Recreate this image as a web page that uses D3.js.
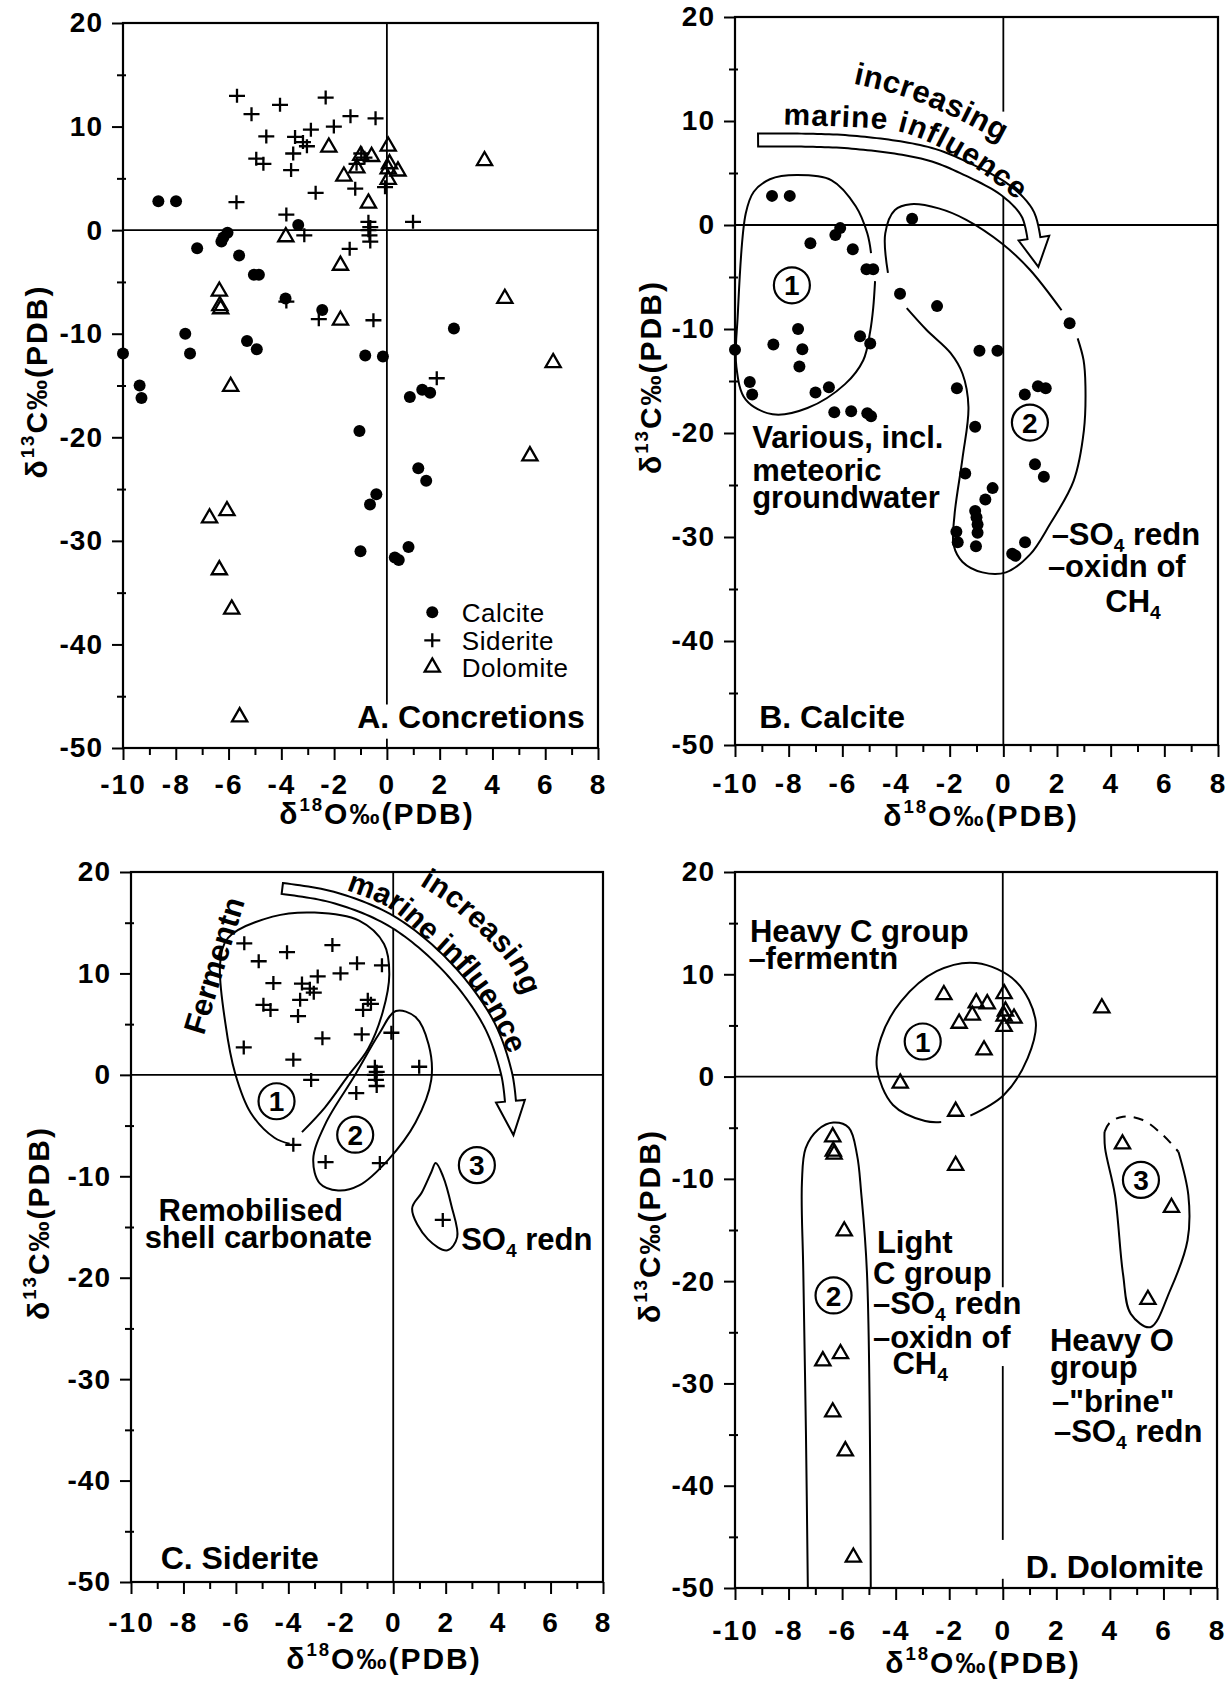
<!DOCTYPE html>
<html>
<head>
<meta charset="utf-8">
<script src="https://cdn.jsdelivr.net/npm/d3@7"></script>
<style>
  body { margin: 0; background: #fff; }
  svg text { font-family: "Liberation Sans", Arial, Helvetica, sans-serif; fill: #000; }
</style>
</head>
<body>
<svg id="fig" width="1228" height="1681"></svg>
<script>
// axis ranges shared by the four plots (d18O on x, d13C on y)
const xDomain = [-10, 8];
const yDomain = [-50, 20];

// ---- sample values [d18O, d13C] ----
// panel A, calcite concretions
const concCalcite = [
  [-8.66, 2.8], [-7.99, 2.8], [-6.04, -0.25], [-6.2, -0.7], [-6.27, -1.1], [-7.19, -1.75],
  [-5.6, -2.45], [-5.04, -4.3], [-4.85, -4.3], [-3.36, 0.5], [-3.84, -6.6], [-2.45, -7.7],
  [2.54, -9.5], [-10.0, -11.9], [-7.64, -10.0], [-7.46, -11.9], [-5.3, -10.7], [-4.93, -11.5],
  [-0.82, -12.1], [-0.15, -12.2], [-9.37, -15.0], [-9.3, -16.2], [0.87, -16.1], [1.34, -15.4],
  [1.64, -15.7], [-1.04, -19.4], [1.19, -23.0], [1.49, -24.2], [-0.4, -25.5], [-0.64, -26.5],
  [-1.0, -31.0], [0.82, -30.6], [0.3, -31.6], [0.45, -31.85]
];
// panel B, calcite
const calcite = [
  [-8.62, 2.8], [-7.96, 2.8], [-6.08, -0.3], [-6.26, -0.96], [-7.19, -1.76], [-5.61, -2.34],
  [-5.1, -4.26], [-4.85, -4.26], [-3.4, 0.6], [-3.85, -6.6], [-2.47, -7.8], [2.47, -9.45],
  [-10.0, -12.0], [-8.57, -11.5], [-7.65, -10.0], [-7.49, -11.95], [-7.6, -13.6], [-5.34, -10.7],
  [-4.96, -11.4], [-9.45, -15.1], [-9.36, -16.3], [-7.0, -16.1], [-6.5, -15.6], [-0.89, -12.1],
  [-0.22, -12.1], [-1.73, -15.7], [0.8, -16.3], [1.29, -15.5], [1.58, -15.7], [-6.3, -18.0],
  [-5.67, -17.9], [-5.07, -18.1], [-4.93, -18.4], [-1.05, -19.4], [-1.42, -23.9], [-0.4, -25.3],
  [-0.67, -26.4], [1.18, -23.0], [1.51, -24.2], [-1.05, -27.5], [-1.0, -28.1], [-0.96, -28.8],
  [-0.96, -29.6], [-1.75, -29.5], [-1.7, -30.5], [-1.02, -30.9], [0.81, -30.5], [0.33, -31.6],
  [0.45, -31.8]
];
// panels A and C, siderite
const siderite = [
  [-5.68, 12.97], [-4.05, 12.1], [-2.32, 12.8], [-5.13, 11.2], [-1.38, 11.0], [-0.43, 10.8],
  [-2.01, 10.0], [-4.57, 9.05], [-2.88, 9.7], [-3.48, 9.0], [-3.18, 8.5], [-3.03, 8.1],
  [-3.55, 7.4], [-4.95, 6.9], [-4.68, 6.4], [-3.63, 5.8], [-0.97, 7.4], [-0.85, 7.0],
  [-1.15, 6.4], [-2.7, 3.6], [-1.2, 4.0], [-0.07, 4.15], [-5.7, 2.7], [-3.81, 1.5],
  [0.99, 0.8], [-3.13, -0.5], [-0.7, 0.8], [-0.63, 0.3], [-0.7, 0.0], [-0.66, -0.5],
  [-0.63, -1.1], [-1.41, -1.8], [-3.81, -6.9], [-2.58, -8.6], [-0.51, -8.7], [1.89, -14.3]
];
// panels A and D, dolomite
const dolomite = [
  [-2.2, 8.0], [-0.99, 7.2], [-0.58, 7.1], [-1.14, 6.0], [-1.63, 5.2], [0.05, 8.1],
  [0.05, 5.9], [0.05, 4.9], [0.42, 5.7], [0.1, 6.4], [-0.7, 2.6], [-3.83, -0.65],
  [-1.76, -3.4], [-1.76, -8.7], [3.7, 6.7], [-6.35, -5.9], [-6.33, -7.3], [-6.3, -7.6],
  [-5.92, -15.1], [4.47, -6.6], [6.3, -12.8], [5.42, -21.8], [-6.72, -27.8], [-6.06, -27.1],
  [-6.35, -32.8], [-5.88, -36.6], [-5.58, -47.0]
];

// legend of panel A
const legendLabels = ['Calcite', 'Siderite', 'Dolomite'];
const legendRowsY = [-36.9, -39.6, -42.2];

// ---- outlines drawn round the groups (data units) ----
const bGroup1 = [[-4.78, -5.4], [-4.85, -8.0], [-4.96, -10.2], [-5.22, -13.0], [-5.9, -15.3], [-7.3, -17.6],
  [-8.6, -18.2], [-9.6, -16.8], [-9.95, -13.6], [-9.9, -8.8], [-9.6, 1.1], [-9.3, 3.2], [-8.7, 4.4],
  [-7.7, 4.8], [-6.4, 4.3], [-5.5, 1.8], [-5.07, -0.8], [-4.93, -2.7]];
const bGroup2a = [[2.77, -10.9], [2.99, -13.0], [3.06, -15.5], [3.0, -19.8], [2.62, -24.6], [1.73, -28.8],
  [0.99, -31.7], [0.1, -33.4], [-0.78, -33.4], [-1.52, -32.4], [-1.85, -30.8], [-1.82, -27.9],
  [-1.52, -22.4], [-1.3, -17.5], [-1.52, -14.3], [-1.97, -12.3], [-2.86, -10.1], [-3.6, -8.0]];
const bGroup2b = [[-4.3, -4.6], [-4.4, -0.8], [-4.04, 1.44], [-3.45, 2.0], [-2.41, 1.6], [-1.38, 0.5],
  [-0.04, -1.8], [0.99, -4.3], [2.17, -8.2]];
const bArrow = [[-9.14, 8.17], [-5.8, 8.0], [-2.86, 6.9], [-1.5, 5.55], [0.1, 3.3], [0.9, 1.1], [1.14, -1.27]];
const bMarinePath = [[-8.2, 9.65], [-6.0, 9.45], [-4.0, 9.05], [-2.9, 8.1], [-1.75, 6.55], [-0.8, 5.0], [0.4, 2.6], [1.0, 1.0]];
const bIncreasingPath = [[-5.6, 13.6], [-4.6, 13.0], [-3.45, 12.1], [-2.3, 10.9], [-1.25, 9.6], [-0.3, 8.3], [0.3, 7.5]];

const cGroup1 = [[-3.48, -5.65], [-2.6, -3.2], [-1.75, -0.2], [-0.95, 2.6], [-0.4, 6.2], [-0.15, 9.9],
  [-0.35, 12.9], [-1.3, 15.2], [-3.0, 16.0], [-4.6, 15.6], [-6.3, 13.5], [-6.6, 11.0], [-6.4, 5.07],
  [-6.03, 0.16], [-5.43, -3.76], [-4.53, -6.2], [-3.95, -6.8]];
const cGroup2 = [[0.1, 6.3], [0.85, 5.7], [1.35, 3.0], [1.45, -0.5], [0.85, -4.7], [-0.2, -8.4],
  [-1.3, -10.9], [-2.1, -11.4], [-2.8, -10.7], [-3.05, -8.3], [-2.6, -4.9], [-1.45, 0], [-0.55, 4.0]];
const cGroup3 = [[1.62, -8.7], [1.9, -10.0], [2.22, -12.9], [2.44, -16.0], [2.07, -17.3], [1.32, -16.2],
  [0.72, -13.2], [1.09, -11.6], [1.45, -9.6]];
const cArrow = [[-4.23, 18.37], [-2.28, 17.5], [-0.03, 15.1], [2.07, 10.6], [3.64, 5.07], [4.32, 0.16], [4.47, -2.6]];
const cMarinePath = [[-1.8, 18.2], [-0.2, 16.5], [1.3, 13.2], [2.5, 10.2], [3.5, 6.7], [4.3, 2.6], [4.8, -1.5]];
const cIncreasingPath = [[1.0, 18.7], [2.05, 16.9], [3.05, 14.6], [3.95, 12.3], [4.55, 10.3], [4.95, 7.8]];

const dGroup1 = [[-1.21, -3.82], [0.04, -1.8], [0.93, 1.8], [1.23, 5.4], [0.49, 9.3], [-0.99, 11.1],
  [-2.47, 10.3], [-3.8, 7.35], [-4.55, 3.76], [-4.7, 0.82], [-4.1, -2.78], [-2.9, -4.35], [-2.3, -4.45]];
const dGroup2 = [[-7.28, -50], [-7.35, -35], [-7.45, -19], [-7.5, -10.3], [-7.36, -7.0], [-6.9, -5.2],
  [-6.33, -4.5], [-5.75, -5.0], [-5.44, -7.7], [-5.29, -11.3], [-5.07, -19.3], [-4.93, -50]];
const dGroup3 = [[6.56, -7.35], [6.93, -11.6], [6.9, -16.0], [6.25, -20.9], [5.51, -24.5], [4.78, -23.2],
  [4.49, -19.3], [4.19, -11.6], [3.82, -7.0], [3.8, -5.4]];
const dGroup3Dashed = [[3.8, -5.4], [4.0, -4.5], [4.49, -3.92], [5.23, -4.25], [5.97, -5.7], [6.56, -7.35]];

// ---- page layout ----
const layout = {
  A: { x0: 123, x1: 598, y0: 23, y1: 748, labPad: 14, titleX: 377, titleY: 824, yTitleX: 37, vGaps: [[-49.1, -45.8]] },
  B: { x0: 735, x1: 1218, y0: 17, y1: 745, labPad: 16, titleX: 981, titleY: 826, yTitleX: 651, vGaps: [[3.4, 10.9]] },
  C: { x0: 131, x1: 603, y0: 872, y1: 1582, labPad: 18, titleX: 384, titleY: 1669, yTitleX: 39, vGaps: [] },
  D: { x0: 735, x1: 1217, y0: 872, y1: 1588, labPad: 20, titleX: 983, titleY: 1673, yTitleX: 650, vGaps: [[-28.3, -20.6], [-49.1, -45.3]] }
};

const svg = d3.select('#fig');
const defs = svg.append('defs');

// text with _sub and ^sup digits
function rich(sel, str, size) {
  const re = /([_^])(\d+)/g;
  let last = 0, shift = 0, m;
  const add = (s, fs, dy) => {
    const t = sel.append('tspan').attr('font-size', fs).text(s);
    if (dy) t.attr('dy', dy);
  };
  while ((m = re.exec(str))) {
    if (m.index > last) { add(str.slice(last, m.index), size, -shift); shift = 0; }
    const d = m[1] === '_' ? size * 0.22 : -size * 0.42;
    add(m[2], size * 0.62, d - shift);
    shift = d;
    last = re.lastIndex;
  }
  if (last < str.length) add(str.slice(last), size, -shift);
}

function makePanel(key) {
  const c = layout[key];
  const g = svg.append('g').attr('class', 'panel-' + key);
  const x = d3.scaleLinear().domain(xDomain).range([c.x0, c.x1]);
  const y = d3.scaleLinear().domain(yDomain).range([c.y1, c.y0]);
  const p = { g, x, y, c };

  // frame and zero lines
  g.append('rect')
    .attr('x', c.x0).attr('y', c.y0)
    .attr('width', c.x1 - c.x0).attr('height', c.y1 - c.y0)
    .attr('fill', 'none').attr('stroke', '#000').attr('stroke-width', 2.2);
  g.append('line')
    .attr('x1', c.x0).attr('x2', c.x1).attr('y1', y(0)).attr('y2', y(0))
    .attr('stroke', '#000').attr('stroke-width', 1.8);
  let top = yDomain[1];
  const spans = [];
  c.vGaps.slice().sort((a, b) => b[1] - a[1]).forEach(([lo, hi]) => { spans.push([hi, top]); top = lo; });
  spans.push([yDomain[0], top]);
  spans.forEach(([lo, hi]) => g.append('line')
    .attr('x1', x(0)).attr('x2', x(0)).attr('y1', y(lo)).attr('y2', y(hi))
    .attr('stroke', '#000').attr('stroke-width', 1.8));

  // x axis: a tick every unit, labels on the even ones
  const ax = g.append('g').attr('transform', `translate(0,${c.y1})`)
    .call(d3.axisBottom(x).tickValues(d3.range(-10, 9)).tickSize(12).tickPadding(c.labPad)
      .tickFormat(d => d % 2 === 0 ? String(d) : ''));
  ax.select('.domain').remove();
  ax.selectAll('.tick line').attr('y2', d => d % 2 === 0 ? 12 : 7).attr('stroke-width', 2);
  ax.selectAll('text').attr('font-size', 28).attr('font-weight', 'bold').attr('letter-spacing', 2);

  // y axis: a tick every 5, labels every 10
  const ay = g.append('g').attr('transform', `translate(${c.x0},0)`)
    .call(d3.axisLeft(y).tickValues(d3.range(-50, 21, 5)).tickSize(11).tickPadding(9)
      .tickFormat(d => d % 10 === 0 ? String(d) : ''));
  ay.select('.domain').remove();
  ay.selectAll('.tick line')
    .attr('x2', d => d % 10 === 0 ? -11 : -6)
    .attr('x1', d => d % 10 === 0 ? 0 : 3)
    .attr('stroke-width', 2);
  ay.selectAll('text').attr('font-size', 28).attr('font-weight', 'bold').attr('letter-spacing', 1);

  // axis titles
  const xt = g.append('text').attr('x', c.titleX).attr('y', c.titleY)
    .attr('text-anchor', 'middle').attr('font-weight', 'bold').attr('letter-spacing', 2);
  rich(xt, 'δ^18O‰(PDB)', 30);
  const yt = g.append('text')
    .attr('transform', `translate(${c.yTitleX},${(c.y0 + c.y1) / 2 - 4}) rotate(-90)`)
    .attr('y', 10).attr('text-anchor', 'middle').attr('font-weight', 'bold').attr('letter-spacing', 2);
  rich(yt, 'δ^13C‰(PDB)', 30);
  return p;
}

function dots(p, data) {
  p.g.append('g').selectAll('circle').data(data).join('circle')
    .attr('cx', d => p.x(d[0])).attr('cy', d => p.y(d[1])).attr('r', 6).attr('fill', '#000');
}
function crosses(p, data) {
  p.g.append('g').selectAll('path').data(data).join('path')
    .attr('d', 'M-8,0H8M0,-7V7')
    .attr('transform', d => `translate(${p.x(d[0])},${p.y(d[1])})`)
    .attr('stroke', '#000').attr('stroke-width', 2.3).attr('fill', 'none');
}
function triangles(p, data) {
  const sym = d3.symbol(d3.symbolTriangle, 100);
  p.g.append('g').selectAll('path').data(data).join('path')
    .attr('d', sym)
    .attr('transform', d => `translate(${p.x(d[0])},${p.y(d[1])})`)
    .attr('stroke', '#000').attr('stroke-width', 2.3).attr('fill', 'none');
}

function outline(p, pts, closed, dash) {
  const line = d3.line().x(d => p.x(d[0])).y(d => p.y(d[1]))
    .curve(closed ? d3.curveCatmullRomClosed : d3.curveCatmullRom);
  p.g.append('path').attr('d', line(pts))
    .attr('fill', 'none').attr('stroke', '#000').attr('stroke-width', 2)
    .attr('stroke-dasharray', dash || null);
}

function circled(p, pt, n) {
  const cx = p.x(pt[0]), cy = p.y(pt[1]);
  p.g.append('circle').attr('cx', cx).attr('cy', cy).attr('r', 18)
    .attr('fill', '#fff').attr('stroke', '#000').attr('stroke-width', 2.2);
  p.g.append('text').attr('x', cx).attr('y', cy).attr('dy', '0.36em')
    .attr('text-anchor', 'middle').attr('font-size', 28).attr('font-weight', 'bold').text(n);
}

function note(p, items, size, halo) {
  items.forEach(it => {
    const t = p.g.append('text')
      .attr('x', p.x(it[0])).attr('y', p.y(it[1]))
      .attr('font-weight', 'bold').attr('text-anchor', it[3] || 'start');
    if (halo) t.attr('stroke', '#fff').attr('stroke-width', 5).attr('stroke-linejoin', 'round').attr('paint-order', 'stroke');
    rich(t, it[2], size);
  });
}

// hollow curved arrow round a centre line given in data units
function hollowArrow(p, pts, o) {
  const tmp = p.g.append('path')
    .attr('d', d3.line().x(d => p.x(d[0])).y(d => p.y(d[1])).curve(d3.curveCatmullRom)(pts));
  const node = tmp.node(), L = node.getTotalLength(), n = 80;
  const c = d3.range(n + 1).map(i => { const q = node.getPointAtLength(L * i / n); return [q.x, q.y]; });
  tmp.remove();
  const nm = c.map((q, i) => {
    const a = c[Math.max(0, i - 1)], b = c[Math.min(n, i + 1)];
    const dx = b[0] - a[0], dy = b[1] - a[1], l = Math.hypot(dx, dy);
    return [dy / l, -dx / l];
  });
  const off = d => c.map((q, i) => [q[0] + nm[i][0] * d, q[1] + nm[i][1] * d]);
  const e = c[n], N = nm[n], t = [-N[1], N[0]];
  const head = [
    [e[0] + N[0] * o.hw, e[1] + N[1] * o.hw],
    [e[0] + t[0] * o.hl, e[1] + t[1] * o.hl],
    [e[0] - N[0] * o.hw, e[1] - N[1] * o.hw]
  ];
  const shape = off(o.w / 2).concat(head, off(-o.w / 2).reverse());
  p.g.append('path').attr('d', d3.line()(shape) + 'Z')
    .attr('fill', '#fff').attr('stroke', '#000').attr('stroke-width', 2).attr('stroke-linejoin', 'miter');
}

function pathText(p, id, pts, str, size, ls) {
  defs.append('path').attr('id', id)
    .attr('d', d3.line().x(d => p.x(d[0])).y(d => p.y(d[1])).curve(d3.curveCatmullRom)(pts));
  p.g.append('text').attr('font-size', size).attr('font-weight', 'bold').attr('letter-spacing', ls || 0)
    .append('textPath').attr('href', '#' + id).text(str);
}

// ---------- A. Concretions ----------
const pA = makePanel('A');
dots(pA, concCalcite);
crosses(pA, siderite);
triangles(pA, dolomite);
const legendMarks = [dots, crosses, triangles];
legendLabels.forEach((lab, i) => {
  legendMarks[i](pA, [[1.72, legendRowsY[i]]]);
  pA.g.append('text').attr('x', pA.x(2.84)).attr('y', pA.y(legendRowsY[i])).attr('dy', '0.36em')
    .attr('font-size', 26).attr('letter-spacing', 0.5).text(lab);
});
note(pA, [[7.5, -48.1, 'A. Concretions', 'end']], 32, true);

// ---------- B. Calcite ----------
const pB = makePanel('B');
outline(pB, bGroup1, false);
outline(pB, bGroup2a, false);
outline(pB, bGroup2b, false);
hollowArrow(pB, bArrow, { w: 13, hw: 15.5, hl: 29 });
pathText(pB, 'bMarine', bMarinePath, 'marine influence', 30, 1);
pathText(pB, 'bIncr', bIncreasingPath, 'increasing', 31, 0.5);
dots(pB, calcite);
circled(pB, [-7.88, -5.8], '1');
circled(pB, [0.99, -19.0], '2');
note(pB, [
  [-9.36, -21.4, 'Various, incl.'], [-9.36, -24.6, 'meteoric'], [-9.36, -27.2, 'groundwater'],
  [1.8, -30.8, '–SO_4 redn'], [1.66, -33.8, '–oxidn of'], [3.8, -37.2, 'CH_4']
], 31, true);
note(pB, [[-9.1, -48.4, 'B. Calcite']], 32, true);

// ---------- C. Siderite ----------
const pC = makePanel('C');
outline(pC, cGroup1, false);
outline(pC, cGroup2, true);
outline(pC, cGroup3, true);
hollowArrow(pC, cArrow, { w: 11, hw: 14.5, hl: 34 });
pathText(pC, 'cMarine', cMarinePath, 'marine influence', 30, 0);
pathText(pC, 'cIncr', cIncreasingPath, 'increasing', 30, 0.5);
crosses(pC, siderite);
circled(pC, [-4.45, -2.6], '1');
circled(pC, [-1.45, -5.9], '2');
circled(pC, [3.19, -8.9], '3');
pC.g.append('text')
  .attr('transform', `translate(${pC.x(-6.85)},${pC.y(10.8)}) rotate(-73)`)
  .attr('dy', '0.36em').attr('text-anchor', 'middle')
  .attr('font-size', 31).attr('font-weight', 'bold').text('Fermentn');
note(pC, [
  [-8.95, -14.4, 'Remobilised'], [-9.48, -17.1, 'shell carbonate'], [2.59, -17.3, 'SO_4 redn']
], 31, true);
note(pC, [[-8.87, -48.7, 'C. Siderite']], 32, true);

// ---------- D. Dolomite ----------
const pD = makePanel('D');
outline(pD, dGroup1, false);
outline(pD, dGroup2, false);
outline(pD, dGroup3, false);
outline(pD, dGroup3Dashed, false, '10,8');
triangles(pD, dolomite);
circled(pD, [-2.99, 3.43], '1');
circled(pD, [-6.32, -21.4], '2');
circled(pD, [5.16, -10.1], '3');
note(pD, [
  [-9.44, 13.2, 'Heavy C group'], [-9.5, 10.5, '–fermentn'],
  [-4.7, -17.2, 'Light'], [-4.85, -20.3, 'C group'], [-4.85, -23.2, '–SO_4 redn'],
  [-4.85, -26.5, '–oxidn of'], [-4.12, -29.1, 'CH_4'],
  [1.76, -26.8, 'Heavy O'], [1.76, -29.5, 'group'], [1.84, -32.8, '–"brine"'], [1.91, -35.7, '–SO_4 redn']
], 31, true);
note(pD, [[7.5, -49.0, 'D. Dolomite', 'end']], 32, true);
</script>
</body>
</html>
